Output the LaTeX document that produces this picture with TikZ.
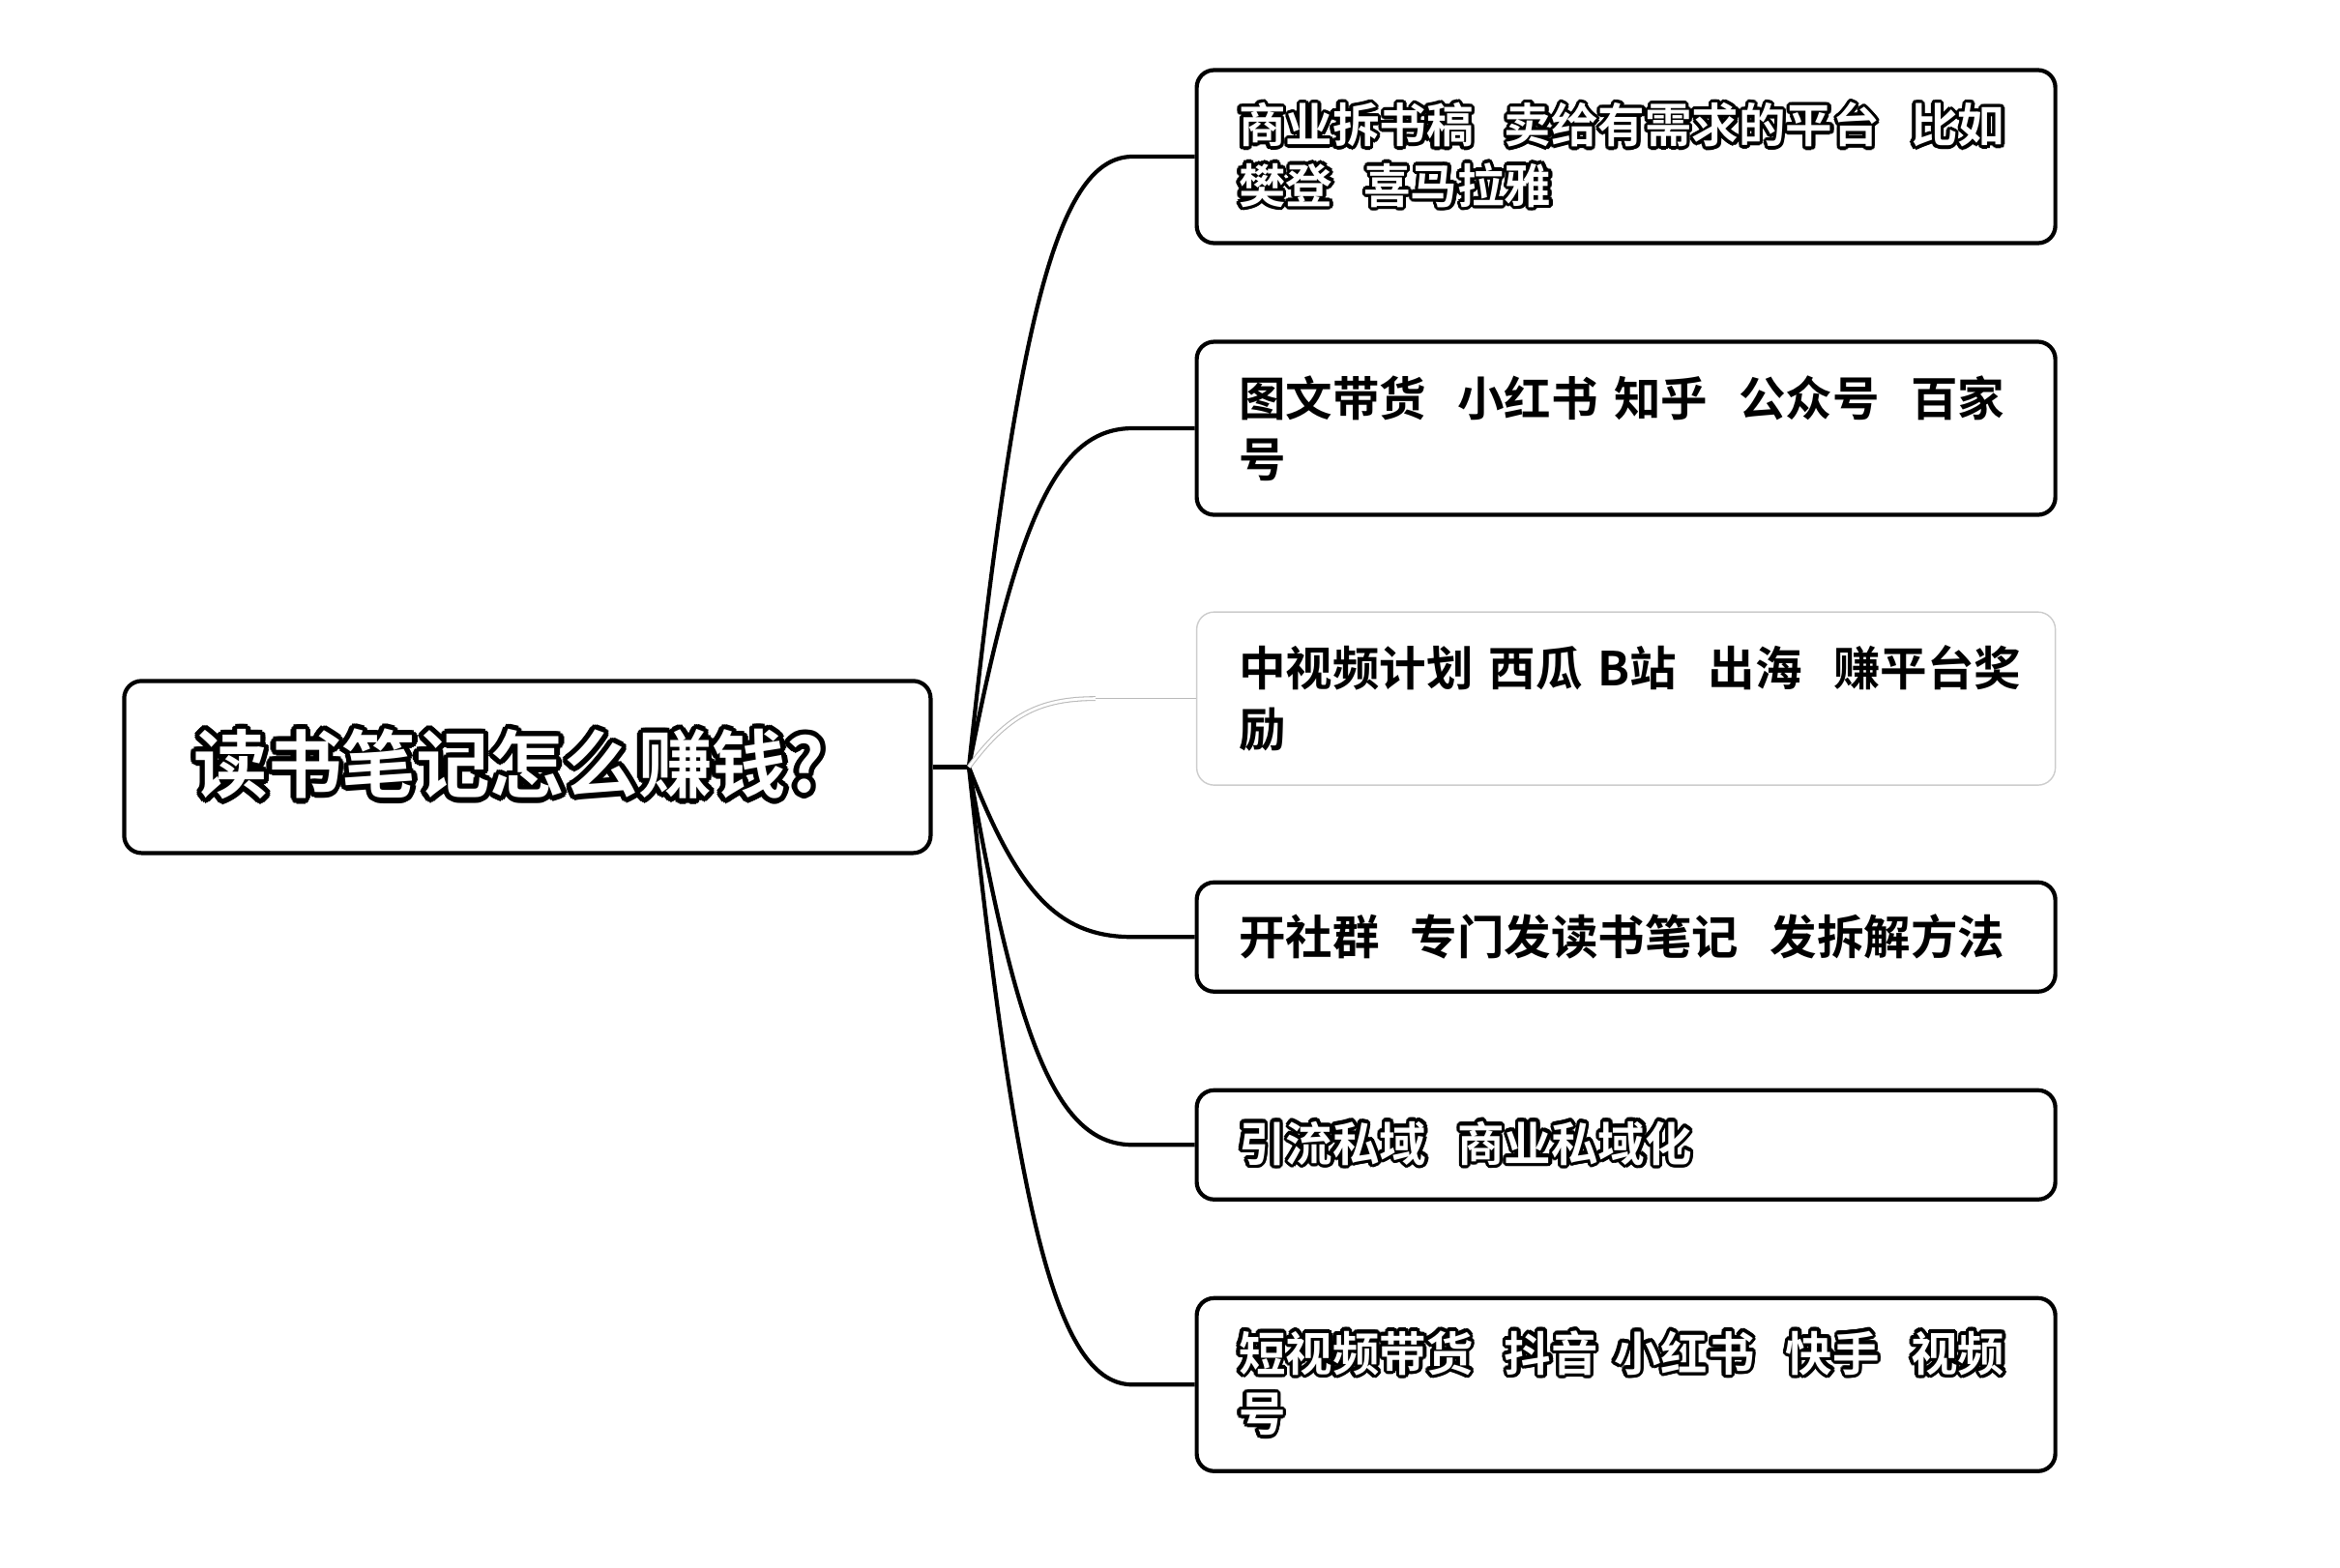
\documentclass[tikz,border=0pt]{standalone}
\usepackage{fontspec}
\setmainfont{Noto Sans CJK SC}[BoldFont={Noto Sans CJK SC Bold}]
\usepackage{contour}
\contourlength{0.07em}
\contournumber{16}
\usetikzlibrary{positioning}
\usetikzlibrary{calc}
\newcommand{\outl}[1]{\contour{black}{#1}}

\begin{document}
\begin{tikzpicture}[
  box/.style={rectangle,draw,line width=1.2pt,rounded corners=0.18cm,text width=8.01cm,inner xsep=0.435cm,align=left,minimum height=1.79cm,font=\fontsize{13.8}{17.8}\selectfont\bfseries},
  lowbox/.style={box,minimum height=1.13cm},
  hollow/.style={text=white},
  link/.style={line width=1.2pt},
  faintlink/.style={draw=gray!55,line width=0.3pt}]
\useasboundingbox (0,0) rectangle (24.2,16.21);
\node[rectangle,draw,line width=1.2pt,rounded corners=0.18cm,minimum width=8.34cm,minimum height=1.78cm,text width=6.9cm,inner xsep=0.72cm,align=left,text=white,font=\fontsize{21.8}{26}\selectfont\bfseries] (root) at (5.454,8.276) {\outl{读书笔记怎么赚钱?}};

\node[box,hollow] (b1) at (16.816,14.59) {\outl{商业拆书稿~~卖给有需求的平台~~比如}\\\outl{樊登~~喜马拉雅}};
\node[box,below=0.978cm of b1] (b2) {图文带货~~小红书~知乎~~公众号~~百家\\号};
\node[box,draw=gray!40,line width=0.4pt,below=0.978cm of b2] (b3) {中视频计划~西瓜~B站~~出海~~赚平台奖\\励};
\node[lowbox,below=0.978cm of b3] (b4) {开社群~~专门发读书笔记~~发拆解方法};
\node[lowbox,hollow,below=0.978cm of b4] (b5) {\outl{引流私域~~商业私域化}};
\node[box,hollow,below=0.978cm of b5] (b6) {\outl{短视频带货~~抖音~小红书~~快手~~视频}\\\outl{号}};

\coordinate (hub) at ($(root.east)+(0.375,0)$);
\draw[link] (root.east) -- (hub);
\foreach \b in {b1,b2,b4,b5,b6}{
  \coordinate (k) at ($(\b.west)+(-0.64,0)$);
  \coordinate (p) at ($(hub)!0.3!(k)$);
  \coordinate (q) at ($(hub)!0.75!(k)$);
  \coordinate (r) at ($(hub)!0.55!(k)$);
  \draw[link] (hub) .. controls (p |- q) and (r |- k) .. (k) -- (\b.west);
}
\coordinate (k3) at ($(b3.west)+(-1.04,0)$);
\coordinate (p3) at ($(hub)!0.3!(k3)$);
\coordinate (q3) at ($(hub)!0.75!(k3)$);
\coordinate (r3) at ($(hub)!0.55!(k3)$);
\draw[faintlink,double=white,double distance=0.8pt] (hub) .. controls (p3 |- q3) and (r3 |- k3) .. (k3);
\draw[faintlink] (k3) -- (b3.west);

\end{tikzpicture}
\end{document}
